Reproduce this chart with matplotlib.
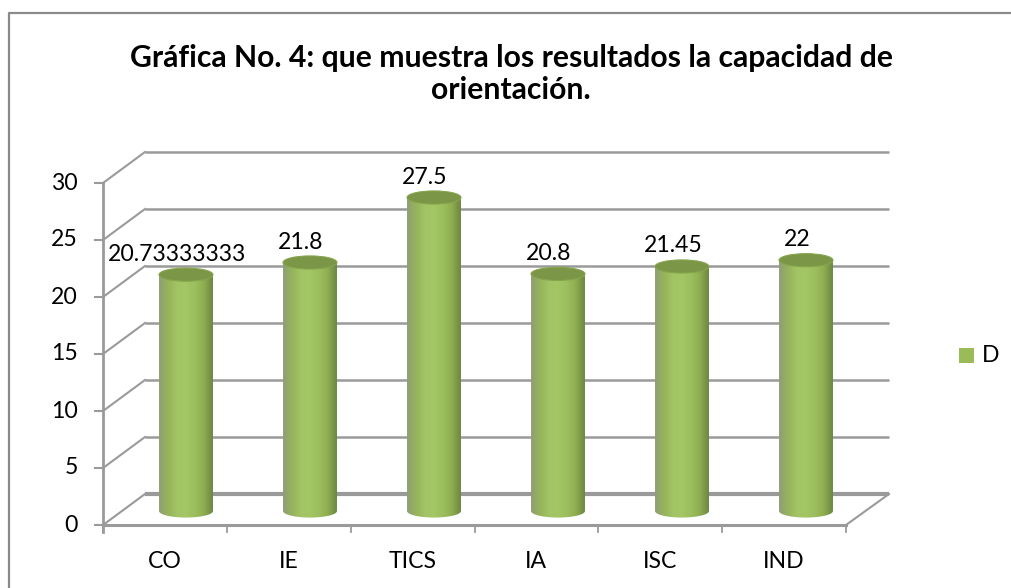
# -*- coding: utf-8 -*-
"""Gráfica No. 4: cilindros 3D estilo Excel, capacidad de orientación."""
import matplotlib
matplotlib.use("Agg")
import matplotlib.pyplot as plt
from matplotlib.colors import LinearSegmentedColormap
from matplotlib.patches import Ellipse, PathPatch, Rectangle
from matplotlib.path import Path
import numpy as np

plt.rcParams["font.family"] = ["Lato", "DejaVu Sans"]

W, H = 1011, 588

categories = ["CO", "IE", "TICS", "IA", "ISC", "IND"]
values = [20.73333333, 21.8, 27.5, 20.8, 21.45, 22]
value_labels = ["20.73333333", "21.8", "27.5", "20.8", "21.45", "22"]
y_ticks = [0, 5, 10, 15, 20, 25, 30]

TITLE = "Gráfica No. 4: que muestra los resultados la capacidad de\norientación."
C_GRID = "#9a9a9a"
C_TOP = "#7a9646"
C_BAR = LinearSegmentedColormap.from_list(
    "cyl", ["#8f9f74", "#96b45a", "#a2c465", "#a4c663", "#9cbf5e", "#8fae52", "#6d8842"])

# escala: x en categorías, y en unidades del eje (pixel = origen - v * escala)
PX_X0, PX_DX = 186.0, 124.0
PX_Y0, PX_DY = 511.0, 11.4
BAR_W = 0.435      # ancho del cilindro en categorías
ELL_H = 1.15       # alto de la elipse en unidades
FRONT_DY = -31 / PX_DY   # de pared trasera a eje frontal
FS = 16.6


def px_x(p):
    return (p - PX_X0) / PX_DX


def px_y(p):
    return (PX_Y0 - p) / PX_DY


fig = plt.figure(figsize=(W / 100, H / 100), dpi=100, facecolor="white")
ax = fig.add_axes([0, 0, 1, 1])
ax.set_xlim(px_x(0), px_x(W))
ax.set_ylim(px_y(H), px_y(0))
ax.axis("off")

# marco exterior: sólo se ve arriba e izquierda
ax.plot([px_x(8.5), px_x(8.5), px_x(W)], [px_y(H), px_y(12.5), px_y(12.5)],
        color="#8a8a8a", lw=1.6, zorder=1)

# pared trasera y diagonales
back_l, back_r = px_x(145), px_x(889)
front_l, front_r = px_x(103), px_x(846)
back_base = px_y(494)
for v in y_ticks:
    yb = back_base + v
    yf = yb + FRONT_DY
    ax.plot([back_l, back_r], [yb, yb], color=C_GRID, lw=3.0 if v == 0 else 1.8,
            solid_capstyle="butt", zorder=1)
    ax.plot([front_l, back_l], [yf, yb], color=C_GRID, lw=1.5, zorder=1)
    ax.plot([front_l - 8 / PX_DX, front_l], [yf, yf], color=C_GRID, lw=1.5, zorder=1)
    ax.text(px_x(78), yf, str(v), ha="right", va="center", fontsize=FS, color="black")

# suelo: eje frontal y cierre derecho
base_f = back_base + FRONT_DY
ax.plot([front_l, front_l], [base_f - 7 / PX_DY, base_f + 30], color=C_GRID, lw=2.0, zorder=1)
ax.plot([front_l, front_r], [base_f, base_f], color=C_GRID, lw=2.2, zorder=1)
ax.plot([front_r, back_r], [base_f, back_base], color=C_GRID, lw=1.5, zorder=1)
for i in range(len(categories) + 1):
    xt = front_l + i * (front_r - front_l) / len(categories)
    ax.plot([xt, xt], [base_f, base_f - 7 / PX_DY], color=C_GRID, lw=1.3, zorder=1)
for i, cat in enumerate(categories):
    xt = front_l + (i + 0.5) * (front_r - front_l) / len(categories)
    ax.text(xt, px_y(561), cat, ha="center", va="center", fontsize=FS, color="black")

# cilindros
grad = np.linspace(0, 1, 64).reshape(1, -1)
for i, (v, lab) in enumerate(zip(values, value_labels)):
    x0, x1 = i - BAR_W / 2, i + BAR_W / 2
    t = np.linspace(np.pi, 2 * np.pi, 40)
    arc_x = i + BAR_W / 2 * np.cos(t)
    arc_y = ELL_H / 2 * np.sin(t)
    verts = list(zip(arc_x, arc_y)) + [(x1, v), (x0, v), (x0, 0)]
    body = PathPatch(Path(verts, closed=False), transform=ax.transData, fc="none", ec="none")
    ax.add_patch(body)
    im = ax.imshow(grad, cmap=C_BAR, aspect="auto", zorder=3,
                   extent=(x0, x1, -ELL_H, v + 1), interpolation="bilinear")
    im.set_clip_path(body)
    ax.add_patch(Ellipse((i, v), BAR_W, ELL_H, fc=C_TOP, ec="#86a44c", lw=0.8, zorder=4))
    ax.text(i - 9 / PX_DX, v + ELL_H / 2 + 0.3, lab, ha="center", va="bottom",
            fontsize=FS, color="black", zorder=5)

# imshow toca los límites
ax.set_xlim(px_x(0), px_x(W))
ax.set_ylim(px_y(H), px_y(0))

# leyenda
ax.add_patch(Rectangle((px_x(959), px_y(363)), 15 / PX_DX, 15 / PX_DY, fc="#9bbb59", ec="none"))
ax.text(px_x(982), px_y(355.5), "D", ha="left", va="center", fontsize=FS, color="black")

# título
ax.text(px_x(511), px_y(74), TITLE, ha="center", va="center", fontsize=21.7,
        fontweight="bold", color="black", linespacing=1.17)

fig.savefig("out.png", dpi=100, facecolor="white")
